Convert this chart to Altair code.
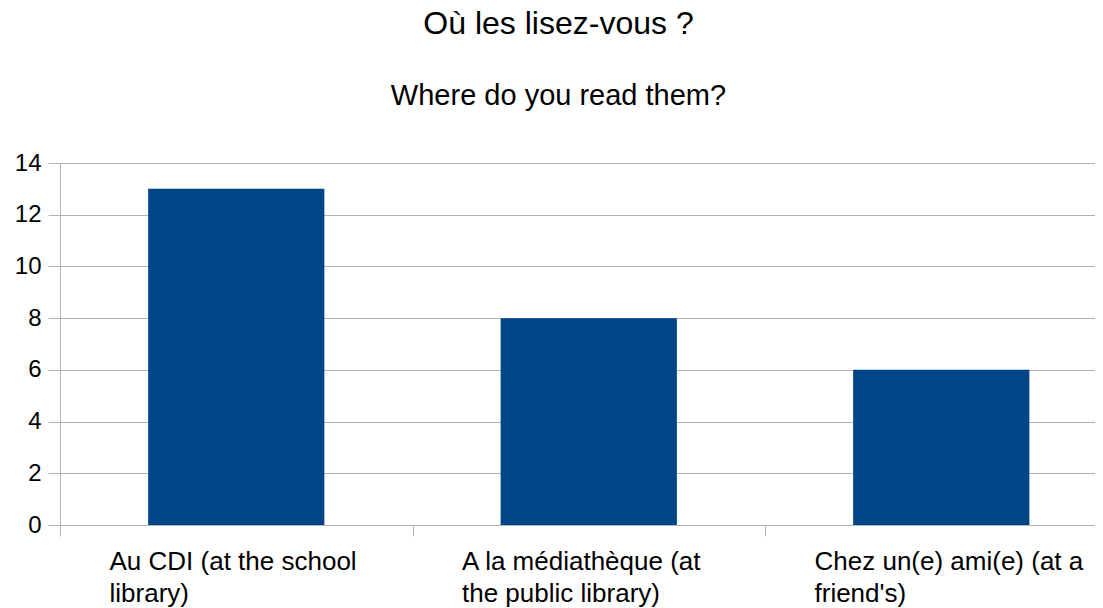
import altair as alt
import pandas as pd

# Data
categories = [
    "Au CDI (at the school\nlibrary)",
    "A la médiathèque (at\nthe public library)",
    "Chez un(e) ami(e) (at a\nfriend's)",
]
counts = [13, 8, 6]
y_ticks = [0, 2, 4, 6, 8, 10, 12, 14]

df = pd.DataFrame({"lieu": categories, "n": counts})

FONT = "Liberation Sans"
GRID = "#b3b3b3"

chart = (
    alt.Chart(df)
    .mark_bar(color="#004586")
    .encode(
        x=alt.X(
            "lieu:N",
            sort=categories,
            title=None,
            scale=alt.Scale(paddingInner=0.5, paddingOuter=0.25, range=[0, 1057.5]),
            axis=alt.Axis(
                labelAngle=0,
                labelExpr="split(datum.label, '\\n')",
                labelAlign="left",
                labelOffset=49,
                labelFontSize=26,
                labelLineHeight=32,
                labelPadding=12,
                labelLimit=0,
                labelFont=FONT,
                labelColor="black",
                tickOffset=-176.25,
                tickSize=11,
                tickColor=GRID,
                domainColor=GRID,
                grid=False,
            ),
        ),
        y=alt.Y(
            "n:Q",
            title=None,
            scale=alt.Scale(domain=[0, 14], nice=False),
            axis=alt.Axis(
                values=y_ticks,
                labelFontSize=24,
                labelFont=FONT,
                labelColor="black",
                labelPadding=7,
                tickSize=12,
                tickColor=GRID,
                domainColor=GRID,
                gridColor=GRID,
                grid=True,
            ),
        ),
    )
    .properties(
        width=1035,
        height=362,
        autosize=alt.AutoSizeParams(type="none"),
        padding={"left": 52, "top": 155, "right": 0, "bottom": 92},
        title=alt.TitleParams(
            text="Où les lisez-vous ?",
            subtitle="Where do you read them?",
            font=FONT,
            subtitleFont=FONT,
            fontSize=32,
            subtitleFontSize=29,
            fontWeight="normal",
            color="black",
            subtitleColor="black",
            anchor="middle",
            dx=-19,
            subtitlePadding=41,
            offset=39,
        ),
    )
    .configure_view(stroke=None)
)

chart.save("out.html", embed_options={"renderer": "svg", "actions": False})
